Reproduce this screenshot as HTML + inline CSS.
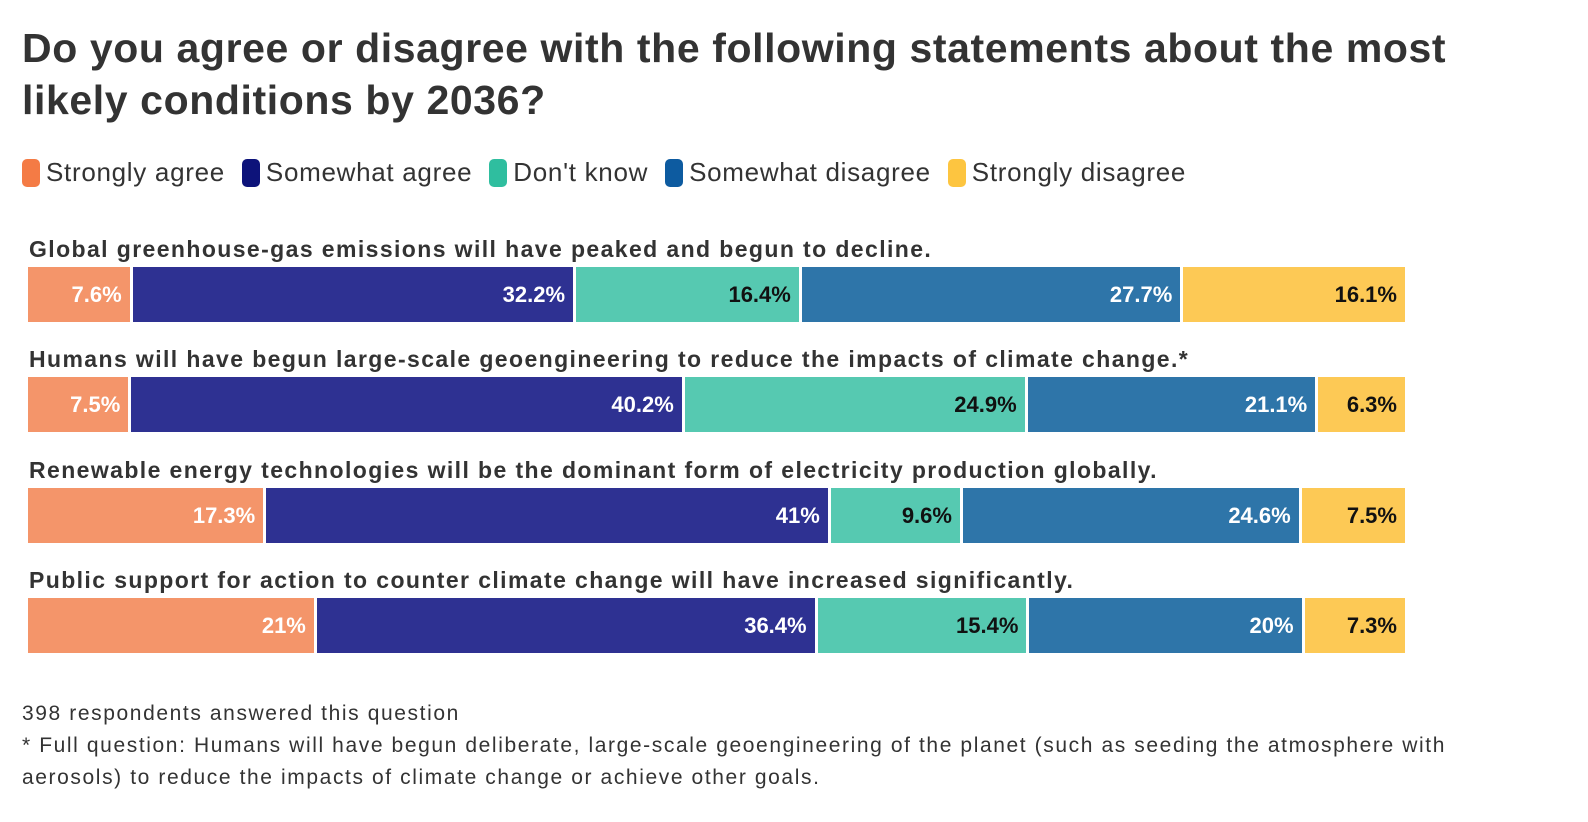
<!DOCTYPE html>
<html><head><meta charset="utf-8"><style>
body{margin:0;width:1588px;height:822px;background:#fff;font-family:"Liberation Sans",sans-serif;color:#333;position:relative;overflow:hidden}
.t{position:absolute;left:22px;top:22px;font-size:41px;font-weight:bold;line-height:52px;color:#333;letter-spacing:0.6px;white-space:nowrap}
.leg{position:absolute;top:157px;left:22px;font-size:26px;display:flex;gap:0;letter-spacing:0.7px;white-space:nowrap}
.li{display:flex;align-items:center;margin-right:17px}
.sw{width:18px;height:28px;border-radius:5px;margin-right:6px}
.lab{position:absolute;left:29px;font-size:23px;font-weight:bold;color:#333;letter-spacing:1.4px;white-space:nowrap}
.seg{position:absolute;height:55px;font-size:22px;font-weight:bold;display:flex;align-items:center;justify-content:flex-end;padding-right:8px;box-sizing:border-box}
.f{position:absolute;left:22px;font-size:21px;color:#333;line-height:32px;letter-spacing:1.6px;white-space:nowrap}
</style></head><body>
<div class="t">Do you agree or disagree with the following statements about the most<br>likely conditions by 2036?</div>
<div class="leg">
<div class="li"><div class="sw" style="background:#f47b45"></div>Strongly agree</div>
<div class="li"><div class="sw" style="background:#0d137a"></div>Somewhat agree</div>
<div class="li"><div class="sw" style="background:#2fbe9f"></div>Don't know</div>
<div class="li"><div class="sw" style="background:#0d5ba0"></div>Somewhat disagree</div>
<div class="li"><div class="sw" style="background:#fdc540"></div>Strongly disagree</div>
</div>
<div id="chart"></div>
<div class="f" style="top:698px">398 respondents answered this question</div>
<div class="f" style="top:730px">* Full question: Humans will have begun deliberate, large-scale geoengineering of the planet (such as seeding the atmosphere with<br>aerosols) to reduce the impacts of climate change or achieve other goals.</div>
<script>
const categories=["Global greenhouse-gas emissions will have peaked and begun to decline.","Humans will have begun large-scale geoengineering to reduce the impacts of climate change.*","Renewable energy technologies will be the dominant form of electricity production globally.","Public support for action to counter climate change will have increased significantly."];
const stronglyAgree=[7.6,7.5,17.3,21];
const somewhatAgree=[32.2,40.2,41,36.4];
const dontKnow=[16.4,24.9,9.6,15.4];
const somewhatDisagree=[27.7,21.1,24.6,20];
const stronglyDisagree=[16.1,6.3,7.5,7.3];
const series=[stronglyAgree,somewhatAgree,dontKnow,somewhatDisagree,stronglyDisagree];
const names=["strongly-agree","somewhat-agree","dont-know","somewhat-disagree","strongly-disagree"];
const colors=["#f4956a","#2e3192","#56c9b1","#2e75a9","#fdc955"];
const txt=["#fff","#fff","#111","#fff","#111"];
const x0=28,x1=1405,rowY=[267,377,488,598];
const c=document.getElementById('chart');
categories.forEach((cat,i)=>{
 const l=document.createElement('div');l.className='lab';l.style.top=(rowY[i]-31)+'px';l.textContent=cat;
 
 
 c.appendChild(l);
 const tot=series.reduce((a,s)=>a+s[i],0);
 let acc=0;
 series.forEach((s,k)=>{
  const xa=x0+(x1-x0)*acc/tot; acc+=s[i]; const xb=x0+(x1-x0)*acc/tot;
  const d=document.createElement('div');d.className='seg';
  d.style.left=xa+'px';d.style.width=(xb-xa-(k<4?3:0))+'px';d.style.top=rowY[i]+'px';
  d.style.background=colors[k];d.style.color=txt[k];d.textContent=s[i]+'%';
  
  
  c.appendChild(d);
 });
});
</script>
</body></html>
